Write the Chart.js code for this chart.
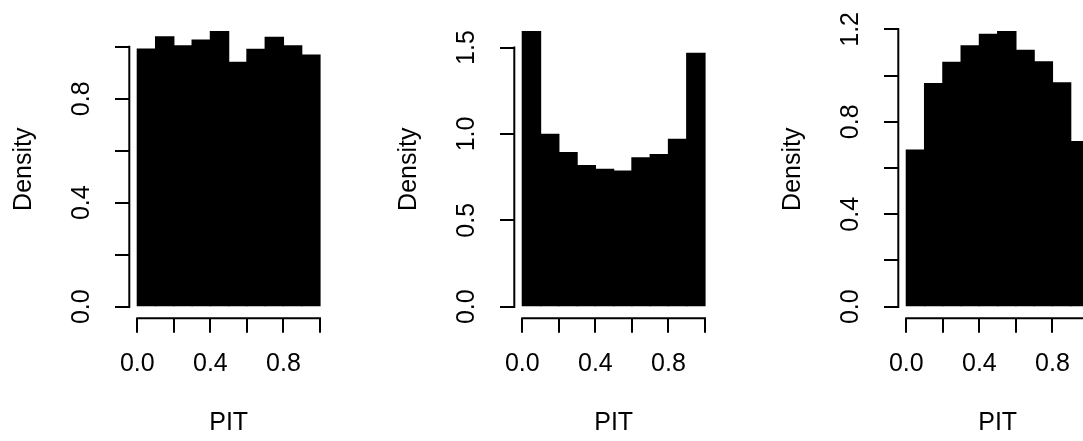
<!DOCTYPE html>
<html>
<head>
<meta charset="utf-8">
<script src="https://cdn.jsdelivr.net/npm/chart.js@4"></script>
<style>
  html, body { margin: 0; padding: 0; background: #fff; }
  #wrap { position: relative; width: 1083px; height: 441px; overflow: hidden; }
  #wrap canvas { position: absolute; top: 0; }
</style>
</head>
<body>
<div id="wrap">
  <canvas id="pit1" width="385" height="441" style="left:0px"></canvas>
  <canvas id="pit2" width="385" height="441" style="left:385px"></canvas>
  <canvas id="pit3" width="385" height="441" style="left:769px"></canvas>
</div>
<script>
// bin midpoints of the PIT histograms (10 bins on [0, 1])
const pitBins = [0.05, 0.15, 0.25, 0.35, 0.45, 0.55, 0.65, 0.75, 0.85, 0.95];

// densities per bin for the three forecasts
const densityCalibrated = [0.991, 1.038, 1.004, 1.026, 1.058, 0.940, 0.990, 1.036, 1.004, 0.968];
const densityUnderdisp  = [1.592, 0.998, 0.892, 0.817, 0.795, 0.785, 0.861, 0.880, 0.969, 1.467];
const densityOverdisp   = [0.678, 0.965, 1.057, 1.129, 1.179, 1.190, 1.109, 1.059, 0.969, 0.714];

// axis ticks and their labels (empty label = tick mark only)
const xTicks = [0, 0.2, 0.4, 0.6, 0.8, 1.0];
const xTickLabels = ['0.0', '', '0.4', '', '0.8', ''];
const yTicks1 = [0, 0.2, 0.4, 0.6, 0.8, 1.0];
const yTickLabels1 = ['0.0', '', '0.4', '', '0.8', ''];
const yTicks2 = [0, 0.5, 1.0, 1.5];
const yTickLabels2 = ['0.0', '0.5', '1.0', '1.5'];
const yTicks3 = [0, 0.2, 0.4, 0.6, 0.8, 1.0, 1.2];
const yTickLabels3 = ['0.0', '', '0.4', '', '0.8', '', '1.2'];

const FONT = { family: '"Liberation Sans", Arial, Helvetica, sans-serif', size: 25 };

// base-graphics style axis lines: only from the first to the last tick
const axisLines = {
  id: 'axisLines',
  afterDraw(chart) {
    const { ctx, chartArea, scales: { x, y } } = chart;
    const xt = x.ticks, yt = y.ticks;
    ctx.save();
    ctx.strokeStyle = '#000';
    ctx.lineWidth = 2;
    ctx.lineCap = 'square';
    ctx.beginPath();
    const ax = chartArea.left - 0.7;
    ctx.moveTo(ax, y.getPixelForValue(yt[0].value));
    ctx.lineTo(ax, y.getPixelForValue(yt[yt.length - 1].value));
    const ay = chartArea.bottom + 0.6;
    ctx.moveTo(x.getPixelForValue(xt[0].value), ay);
    ctx.lineTo(x.getPixelForValue(xt[xt.length - 1].value), ay);
    ctx.stroke();
    ctx.restore();
  }
};

function pitHistogram(id, density, yTicks, yLabels) {
  const top = Math.max(...density);
  return new Chart(document.getElementById(id), {
    type: 'bar',
    data: {
      datasets: [{
        data: pitBins.map((b, i) => ({ x: b, y: density[i] })),
        backgroundColor: '#000',
        borderWidth: 0,
        inflateAmount: 0.6,
        barPercentage: 1,
        categoryPercentage: 1
      }]
    },
    options: {
      responsive: false,
      animation: false,
      layout: { padding: { left: 0, top: 20.7, right: 57.7, bottom: 0 } },
      plugins: { legend: { display: false }, tooltip: { enabled: false } },
      scales: {
        x: {
          type: 'linear',
          offset: false,
          min: -0.04,
          max: 1.04,
          afterBuildTicks: s => { s.ticks = xTicks.map(v => ({ value: v })); },
          afterFit: s => { s.height = 123.3; s.paddingLeft = 0; s.paddingRight = 0; },
          border: { display: false },
          grid: { offset: false, drawOnChartArea: false, drawTicks: true, tickLength: 15, lineWidth: 2, tickWidth: 2, tickColor: '#000' },
          ticks: {
            autoSkip: false, maxRotation: 0, minRotation: 0, padding: 16.3,
            color: '#000', font: FONT,
            callback: (v, i) => xTickLabels[i]
          },
          title: { display: true, text: 'PIT', color: '#000', font: FONT, padding: { top: 0, bottom: 2.4 } }
        },
        y: {
          min: -0.04 * top,
          max: 1.04 * top,
          afterBuildTicks: s => { s.ticks = yTicks.map(v => ({ value: v })); },
          afterFit: s => { s.width = 130; s.paddingTop = 0; s.paddingBottom = 0; },
          border: { display: false },
          grid: { drawOnChartArea: false, drawTicks: true, tickLength: 15, lineWidth: 2, tickWidth: 2, tickColor: '#000' },
          ticks: {
            autoSkip: false, minRotation: 90, maxRotation: 90, crossAlign: 'center', padding: 15.7,
            color: '#000', font: FONT,
            callback: (v, i) => yLabels[i]
          },
          title: { display: true, text: 'Density', color: '#000', font: FONT, padding: { top: 9.6, bottom: 0 } }
        }
      }
    },
    plugins: [axisLines]
  });
}

pitHistogram('pit1', densityCalibrated, yTicks1, yTickLabels1);
pitHistogram('pit2', densityUnderdisp, yTicks2, yTickLabels2);
pitHistogram('pit3', densityOverdisp, yTicks3, yTickLabels3);
</script>
</body>
</html>
